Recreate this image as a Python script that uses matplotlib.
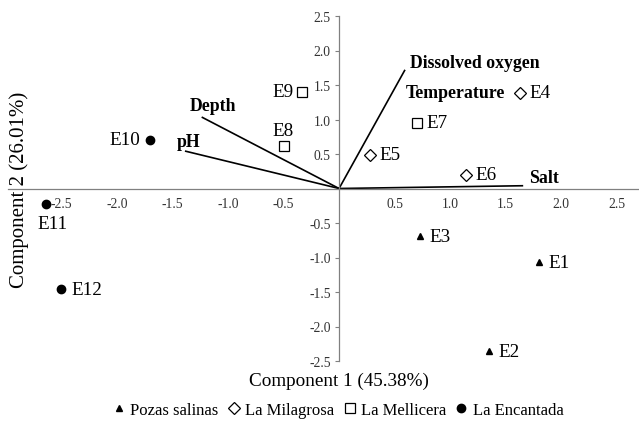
import matplotlib as mpl
mpl.use('Agg')
import matplotlib.pyplot as plt
from matplotlib.lines import Line2D

plt.rcParams['font.family'] = ['Liberation Serif', 'DejaVu Serif']

# sample sites (PCA scores)
SITES = ['E1', 'E2', 'E3', 'E4', 'E5', 'E6', 'E7', 'E8', 'E9', 'E10', 'E11', 'E12']
PC1 = [1.80, 1.35, 0.73, 1.63, 0.28, 1.14, 0.70, -0.50, -0.33, -1.70, -2.64, -2.50]
PC2 = [-1.07, -2.36, -0.69, 1.39, 0.49, 0.20, 0.95, 0.62, 1.40, 0.71, -0.22, -1.46]
GROUP = ['Pozas salinas'] * 3 + ['La Milagrosa'] * 3 + ['La Mellicera'] * 3 + ['La Encantada'] * 3

# variable loadings
VARS = ['Dissolved oxygen', 'Salt', 'Depth', 'pH']
VX = [0.59, 1.65, -1.23, -1.38]
VY = [1.71, 0.04, 1.03, 0.54]

GROUPS = ['Pozas salinas', 'La Milagrosa', 'La Mellicera', 'La Encantada']
STYLE = {
    'Pozas salinas': dict(marker='^', ms=5, mfc='black', mec='black'),
    'La Milagrosa': dict(marker='D', ms=6, mfc='white', mec='black', mew=0.9),
    'La Mellicera': dict(marker='s', ms=7, mfc='white', mec='black', mew=0.9),
    'La Encantada': dict(marker='o', ms=6, mfc='black', mec='black'),
}
# label placement (offset in points, ha)
LABEL_POS = {'E8': (0, 11, 'center'), 'E9': (-6, 0, 'right'),
             'E10': (-7, 0, 'right'), 'E11': (-6, -14, 'left')}

fig = plt.figure(figsize=(6.39, 4.31), dpi=100)
ax = fig.add_axes([8 / 639, 69 / 431, 631 / 639, 345 / 431])
ax.set_xlim(-2.98, 2.70)
ax.set_ylim(-2.5, 2.5)

for sp in ['top', 'right']:
    ax.spines[sp].set_visible(False)
ax.spines['left'].set_position(('data', 0))
ax.spines['bottom'].set_position(('data', 0))
for sp in ['left', 'bottom']:
    ax.spines[sp].set_color('#808080')
    ax.spines[sp].set_linewidth(0.9)

ax.set_xticks([-2.5, -2.0, -1.5, -1.0, -0.5, 0.5, 1.0, 1.5, 2.0, 2.5])
ax.set_yticks([-2.5, -2.0, -1.5, -1.0, -0.5, 0.5, 1.0, 1.5, 2.0, 2.5])
ax.xaxis.set_major_formatter(mpl.ticker.FormatStrFormatter('%.1f'))
ax.yaxis.set_major_formatter(mpl.ticker.FormatStrFormatter('%.1f'))
ax.tick_params(axis='x', length=0, pad=6, labelsize=9.8, colors='#333333')
ax.tick_params(axis='y', length=3, width=0.8, color='#808080', pad=3, labelsize=9.8, labelcolor='#333333')

for name, vx, vy in zip(VARS, VX, VY):
    ax.plot([0, vx], [0, vy], color='black', lw=1.2, zorder=2)

bold = dict(fontsize=12.8, fontweight='bold', va='center')
ax.text(0.64, 1.83, 'Dissolved oxygen', **bold)
ax.text(0.60, 1.39, 'Temperature', **bold)
ax.text(1.71, 0.16, 'Salt', **bold)
ax.text(-1.34, 1.20, 'Depth', **bold)
ax.text(-1.46, 0.68, 'pH', **bold)

for s, x, y, g in zip(SITES, PC1, PC2, GROUP):
    ax.plot(x, y, linestyle='none', zorder=3, **STYLE[g])
    dx, dy, ha = LABEL_POS.get(s, (7, 0, 'left'))
    ax.annotate(s, (x, y), xytext=(dx, dy), textcoords='offset points',
                ha=ha, va='center', fontsize=13.8)

fig.text(339 / 639, 1 - 381 / 431, 'Component 1 (45.38%)', ha='center', va='center', fontsize=13.8)
fig.text(19 / 639, 1 - 190 / 431, 'Component 2 (26.01%)', ha='center', va='center',
         rotation=90, fontsize=15)

handles = [Line2D([], [], linestyle='none', **STYLE[g]) for g in GROUPS]
fig.legend(handles, GROUPS, loc='center', bbox_to_anchor=(338 / 639, 1 - 411 / 431),
           ncol=4, frameon=False, fontsize=12, handlelength=0.8, handletextpad=0.3,
           columnspacing=0.5, borderaxespad=0)

fig.savefig('out.png', dpi=100)
